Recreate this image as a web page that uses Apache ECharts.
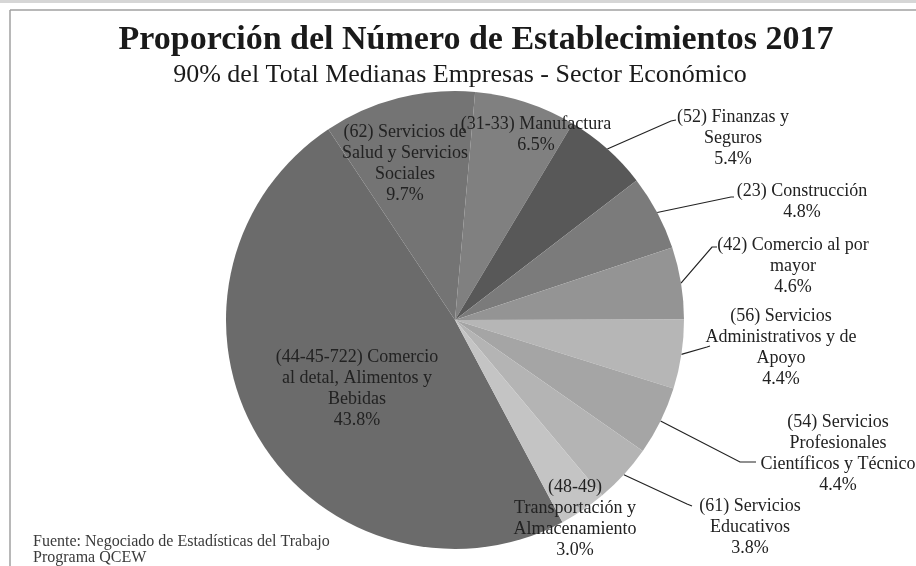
<!DOCTYPE html>
<html>
<head>
<meta charset="utf-8">
<title>Proporción del Número de Establecimientos 2017</title>
<script src="https://cdn.jsdelivr.net/npm/echarts@6/dist/echarts.min.js"></script>
<style>
  html, body { margin: 0; padding: 0; background: #ffffff; }
  #chart { width: 916px; height: 566px; }
</style>
</head>
<body>
<div id="chart"></div>
<script>
// sectores, en el orden del pastel (sentido horario)
var sectores = [
  "(44-45-722) Comercio al detal, Alimentos y Bebidas",
  "(62) Servicios de Salud y Servicios Sociales",
  "(31-33) Manufactura",
  "(52) Finanzas y Seguros",
  "(23) Construcción",
  "(42) Comercio al por mayor",
  "(56) Servicios Administrativos y de Apoyo",
  "(54) Servicios Profesionales Científicos y Técnico",
  "(61) Servicios Educativos",
  "(48-49) Transportación y Almacenamiento"
];
// por ciento del total de medianas empresas
var porcientos = [43.8, 9.7, 6.5, 5.4, 4.8, 4.6, 4.4, 4.4, 3.8, 3.0];
// como se parte cada etiqueta en lineas
var etiquetas = [
  "(44-45-722) Comercio\nal detal, Alimentos y\nBebidas",
  "(62) Servicios de\nSalud y Servicios\nSociales",
  "(31-33) Manufactura",
  "(52) Finanzas y\nSeguros",
  "(23) Construcción",
  "(42) Comercio al por\nmayor",
  "(56) Servicios\nAdministrativos y de\nApoyo",
  "(54) Servicios\nProfesionales\nCientíficos y Técnico",
  "(61) Servicios\nEducativos",
  "(48-49)\nTransportación y\nAlmacenamiento"
];

var grises = ["#6b6b6b", "#747474", "#808080", "#585858", "#7b7b7b",
              "#949494", "#b6b6b6", "#a5a5a5", "#b4b4b4", "#c4c4c4"];

// donde va cada etiqueta (centro x, tope y) y el codo de su linea
var posEtiqueta = [
  [357, 347], [405, 122], [536, 114], [733, 107], [802, 181],
  [793, 235], [781, 306], [838, 412], [750, 496], [575, 477]
];
var finLinea = [
  null, null, null,
  [[671, 121], [676, 120]],
  [[731, 197], [734, 197]],
  [[712, 247], [717, 247]],
  [[707, 347], [710, 346]],
  [[740, 462], [756, 462]],
  [[687, 504], [692, 506]],
  null
];

var chart = echarts.init(document.getElementById("chart"));
var fuente = "Liberation Serif, Times New Roman, serif";

var datos = sectores.map(function (s, i) {
  var d = { name: s, value: porcientos[i] };
  if (!finLinea[i]) d.labelLine = { show: false };
  return d;
});

chart.setOption({
  animation: false,
  color: grises,
  graphic: [
    { type: "rect", shape: { x: 0, y: 0, width: 916, height: 3 }, style: { fill: "#d6d6d6" } },
    { type: "line", shape: { x1: 10, y1: 10, x2: 916, y2: 10 }, style: { stroke: "#a0a0a0", lineWidth: 1.5 } },
    { type: "line", shape: { x1: 10, y1: 10, x2: 10, y2: 566 }, style: { stroke: "#a0a0a0", lineWidth: 1.5 } },
    {
      type: "text", x: 476, y: 40,
      style: {
        text: "Proporción del Número de Establecimientos 2017",
        font: "bold 34px " + fuente, fill: "#1a1a1a",
        textAlign: "center", textVerticalAlign: "middle"
      }
    },
    {
      type: "text", x: 460, y: 75,
      style: {
        text: "90% del Total Medianas Empresas - Sector Económico",
        font: "26px " + fuente, fill: "#1a1a1a",
        textAlign: "center", textVerticalAlign: "middle"
      }
    },
    {
      type: "text", x: 33, y: 534,
      style: {
        text: "Fuente: Negociado de Estadísticas del Trabajo\nPrograma QCEW",
        font: "16px " + fuente, fill: "#3a3a3a", lineHeight: 16
      }
    }
  ],
  series: [
    {
      type: "pie",
      center: [455, 320],
      radius: 229,
      startAngle: -62,
      clockwise: true,
      avoidLabelOverlap: false,
      data: datos,
      label: {
        show: true,
        position: "outside",
        fontFamily: fuente,
        fontSize: 18,
        lineHeight: 21,
        color: "#222",
        align: "center",
        formatter: function (p) {
          return etiquetas[p.dataIndex] + "\n" + p.value.toFixed(1) + "%";
        }
      },
      labelLine: {
        show: true,
        length: 10,
        length2: 10,
        lineStyle: { color: "#222", width: 1.2 }
      },
      labelLayout: function (p) {
        var i = p.dataIndex;
        var res = {
          x: posEtiqueta[i][0],
          y: posEtiqueta[i][1],
          align: "center",
          verticalAlign: "top"
        };
        if (finLinea[i] && p.labelLinePoints) {
          res.labelLinePoints = [p.labelLinePoints[0]].concat(finLinea[i]);
        }
        return res;
      }
    }
  ]
});
</script>
</body>
</html>
